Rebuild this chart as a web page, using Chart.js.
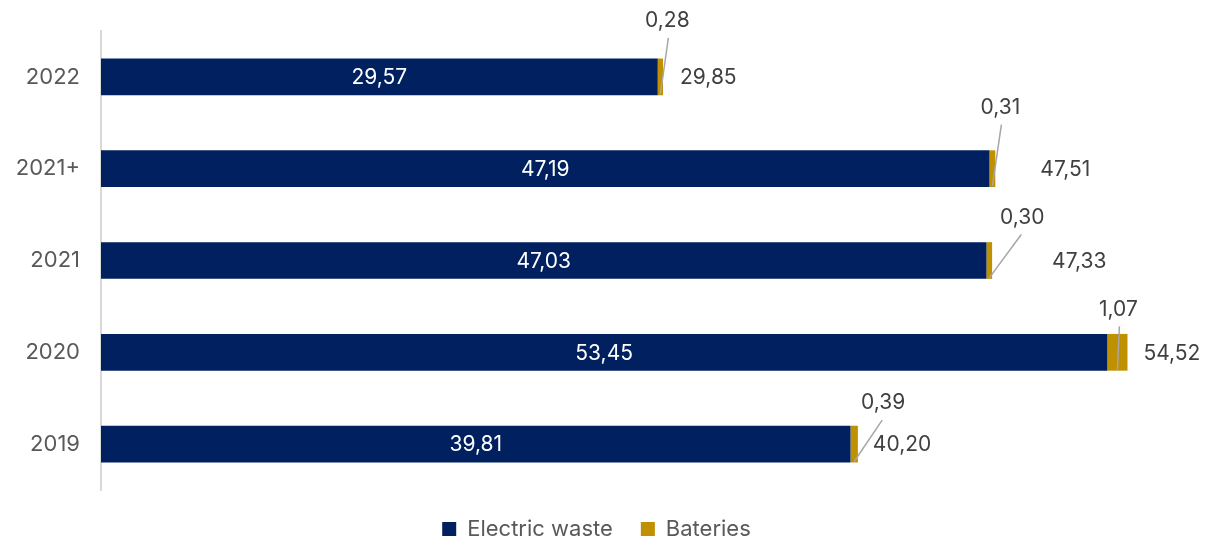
<!DOCTYPE html>
<html>
<head>
<meta charset="utf-8">
<script src="https://cdn.jsdelivr.net/npm/chart.js@4/dist/chart.umd.min.js"></script>
<style>
  html, body { margin: 0; padding: 0; background: #fff; }
  #wrap { width: 1208px; height: 540px; }
</style>
</head>
<body>
<div id="wrap"><canvas id="barchart"></canvas></div>
<script>
const years = ["2022", "2021+", "2021", "2020", "2019"];
const electricWaste = [29.57, 47.19, 47.03, 53.45, 39.81];
const bateries = [0.28, 0.31, 0.30, 1.07, 0.39];
const totals = [29.85, 47.51, 47.33, 54.52, 40.20];

// label placement (pixels) for the battery callouts and totals
const batteryLabelOffset = [[7, -56], [8, -61], [33, -43], [1, -43], [29, -41]];
const totalLabelGap = [17, 45, 60, 16, 15];

const fmt = (v) => v.toFixed(2).replace(".", ",");
const FONT = "Inter, 'Open Sans', sans-serif";

const labelPlugin = {
  id: "labels",
  afterDatasetsDraw(chart) {
    const ctx = chart.ctx;
    const m0 = chart.getDatasetMeta(0).data;
    const m1 = chart.getDatasetMeta(1).data;
    ctx.save();
    ctx.font = "21px " + FONT;
    ctx.textBaseline = "middle";

    m0.forEach((bar, i) => {
      ctx.fillStyle = "#ffffff";
      ctx.textAlign = "center";
      ctx.fillText(fmt(electricWaste[i]), (bar.base + bar.x) / 2, bar.y + 1);
    });

    m1.forEach((bar, i) => {
      const cx = (bar.base + bar.x) / 2;
      const bottom = bar.y + bar.height / 2;
      const [dx, dy] = batteryLabelOffset[i];
      const lx = cx + dx, ly = bar.y + dy;
      ctx.strokeStyle = "#a6a6a6";
      ctx.lineWidth = 1.5;
      ctx.beginPath();
      ctx.moveTo(cx, bottom - 1);
      ctx.lineTo(lx + (dx > 20 ? -1 : 1), ly + 17);
      ctx.stroke();
      ctx.fillStyle = "#404040";
      ctx.textAlign = "center";
      ctx.fillText(fmt(bateries[i]), lx, ly);

      ctx.textAlign = "left";
      ctx.fillText(fmt(totals[i]), bar.x + totalLabelGap[i], bar.y + 1);
    });
    ctx.restore();
  }
};

new Chart(document.getElementById("barchart"), {
  type: "bar",
  data: {
    labels: years,
    datasets: [
      { label: "Electric waste", data: electricWaste, backgroundColor: "#002060" },
      { label: "Bateries", data: bateries, backgroundColor: "#bf9000" }
    ]
  },
  options: {
    indexAxis: "y",
    responsive: true,
    maintainAspectRatio: false,
    animation: false,
    layout: { padding: { top: 31, right: 15, left: 0, bottom: -10 } },
    scales: {
      x: {
        stacked: true,
        min: 0,
        max: 58,
        display: false
      },
      y: {
        stacked: true,
        grid: { display: false },
        border: { display: true, color: "#d9d9d9", width: 2 },
        ticks: { color: "#595959", font: { family: FONT, size: 22 }, padding: 13 },
        afterFit(scale) { scale.width = 101; }
      }
    },
    datasets: { bar: { categoryPercentage: 1, barPercentage: 0.4 } },
    plugins: {
      legend: {
        position: "bottom",
        labels: {
          color: "#595959",
          font: { family: FONT, size: 22 },
          boxWidth: 14,
          boxHeight: 14,
          padding: 28
        }
      },
      tooltip: { enabled: false }
    }
  },
  plugins: [labelPlugin]
});
</script>
</body>
</html>
